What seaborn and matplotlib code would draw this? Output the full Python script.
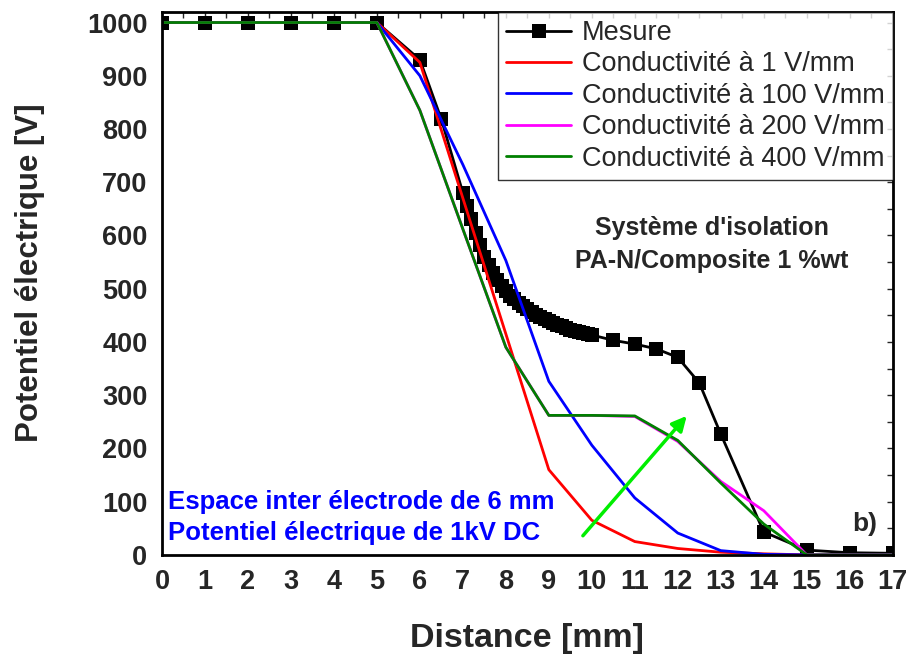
import numpy as np
import matplotlib
matplotlib.use('Agg')
import matplotlib.pyplot as plt
import seaborn as sns

sns.set_style('white')
plt.rcParams['font.family'] = ['Liberation Sans', 'DejaVu Sans']

# measured potential
x_mes = [0, 1, 2, 3, 4, 5, 6, 6.5,
         7.0, 7.1, 7.2, 7.3, 7.4, 7.5, 7.6, 7.7, 7.8, 7.9,
         8.0, 8.1, 8.2, 8.3, 8.4, 8.5, 8.6, 8.7, 8.8, 8.9,
         9.0, 9.1, 9.2, 9.3, 9.4, 9.5, 9.6, 9.7, 9.8, 9.9, 10.0,
         10.5, 11, 11.5, 12, 12.5, 13, 14, 15, 16, 17]
y_mes = [1000, 1000, 1000, 1000, 1000, 1000, 930, 818,
         680, 655, 630, 605, 582, 560, 545, 530, 516, 505,
         495, 487, 480, 473, 467, 461, 456, 451, 447, 443,
         439, 435, 432, 429, 426, 423, 421, 419, 417, 415, 413,
         403, 396, 387, 371, 323, 227, 43, 9, 4, 3]

# simulated potential
x_sim = np.arange(0, 18)
y_1 = [1000, 1000, 1000, 1000, 1000, 1000, 925, 670, 415, 160, 65, 25, 12, 5, 2, 0, 0, 0]
y_100 = [1000, 1000, 1000, 1000, 1000, 1000, 900, 733, 553, 326, 206, 107, 41, 8, 1, 0, 0, 0]
y_200 = [1000, 1000, 1000, 1000, 1000, 1000, 835, 612, 390, 262, 262, 260, 213, 138, 83, 0, 0, 0]
y_400 = [1000, 1000, 1000, 1000, 1000, 1000, 835, 612, 390, 262, 262, 261, 215, 135, 58, 0, 0, 0]

fig = plt.figure(figsize = (9.1, 6.59), dpi = 100)
ax = fig.add_axes([0.178, 0.158, 0.803, 0.824])

sns.lineplot(x = x_mes, y = y_mes, color = 'black', marker = 's', markersize = 9.5, markeredgewidth = 0,
             linewidth = 2, sort = False, estimator = None, label = 'Mesure', ax = ax)
sns.lineplot(x = x_sim, y = y_1, color = '#ff0000', linewidth = 2, label = 'Conductivité à 1 V/mm', ax = ax)
sns.lineplot(x = x_sim, y = y_100, color = '#0000ff', linewidth = 2, label = 'Conductivité à 100 V/mm', ax = ax)
sns.lineplot(x = x_sim, y = y_200, color = '#ff00ff', linewidth = 2, label = 'Conductivité à 200 V/mm', ax = ax)
sns.lineplot(x = x_sim, y = y_400, color = '#008000', linewidth = 2, label = 'Conductivité à 400 V/mm', ax = ax)

ax.annotate('', xy = (12.25, 265), xytext = (9.75, 32),
            arrowprops = dict(arrowstyle = '-|>', color = '#00ee00', lw = 2.5, mutation_scale = 22))

ax.text(12.8, 583, "Système d'isolation\nPA-N/Composite 1 %wt", ha = 'center', va = 'center',
        fontsize = 18, fontweight = 'bold', linespacing = 1.45)
ax.text(0.15, 70, 'Espace inter électrode de 6 mm\nPotentiel électrique de 1kV DC', ha = 'left', va = 'center',
        fontsize = 18.5, fontweight = 'bold', color = '#0000ff', linespacing = 1.4)
ax.text(16.35, 58, 'b)', ha = 'center', va = 'center', fontsize = 19, fontweight = 'bold')

ax.set_xlim(0, 17)
ax.set_ylim(0, 1020)
ax.set_xticks(range(0, 18))
ax.set_xticks(np.arange(0.5, 17, 1), minor = True)
ax.set_yticks(range(0, 1001, 100))
ax.set_yticks(range(50, 1001, 100), minor = True)
ax.tick_params(which = 'major', direction = 'out', length = 7, width = 2, labelsize = 19.5)
ax.tick_params(which = 'minor', direction = 'out', length = 4, width = 1.5)
for lab in ax.get_xticklabels() + ax.get_yticklabels():
    lab.set_fontweight('bold')

top = ax.secondary_xaxis('top')
top.set_xticks(range(0, 18))
top.set_xticks(np.arange(0.5, 17, 1), minor = True)
top.tick_params(which = 'both', direction = 'in', labeltop = False, length = 4, width = 1)
right = ax.secondary_yaxis('right')
right.set_yticks(range(0, 1001, 100))
right.set_yticks(range(50, 1001, 100), minor = True)
right.tick_params(which = 'both', direction = 'in', labelright = False, length = 4, width = 1)

for s in ax.spines.values():
    s.set_linewidth(2)
    s.set_color('black')

ax.set_xlabel('Distance [mm]', fontsize = 24.5, fontweight = 'bold', labelpad = 20)
ax.set_ylabel('Potentiel électrique [V]', fontsize = 22.5, fontweight = 'bold')
ax.yaxis.set_label_coords(-0.16, 0.52)

leg = ax.legend(loc = 'upper right', bbox_to_anchor = (1.0, 1.0), borderaxespad = 0, fontsize = 19.5,
                frameon = True, fancybox = False, edgecolor = 'black', handlelength = 2.4,
                labelspacing = 0.2, borderpad = 0.3, handletextpad = 0.4)
leg.get_frame().set_linewidth(1)

fig.savefig('out.png', dpi = 100)
